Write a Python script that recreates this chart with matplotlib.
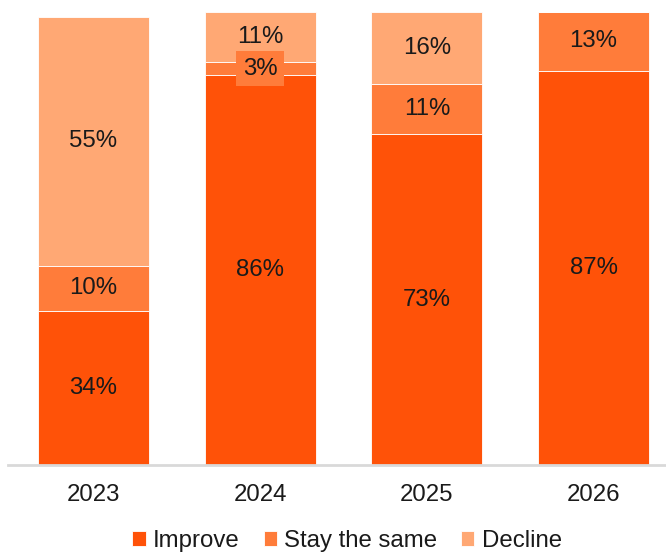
import matplotlib as mpl
import matplotlib.pyplot as plt
import numpy as np

mpl.rcParams['font.family'] = ['Liberation Sans', 'DejaVu Sans']

# survey outlook by year, share of respondents (%)
years = ['2023', '2024', '2025', '2026']
improve = [34, 86, 73, 87]
stay_same = [10, 3, 11, 13]
decline = [55, 11, 16, 0]

series = [
    ('Improve', improve, '#ff5208'),
    ('Stay the same', stay_same, '#ff7c3a'),
    ('Decline', decline, '#ffa874'),
]

fig = plt.figure(figsize=(6.66, 5.55), dpi=100)
ax = fig.add_axes([8 / 666, 1 - 465 / 555, 1 - 8 / 666, 465 / 555])

x = np.arange(len(years))
bottom = np.zeros(len(years))
for name, vals, color in series:
    vals = np.array(vals, dtype=float)
    ax.bar(x, vals, bottom=bottom, width=0.667, color=color,
           edgecolor='white', linewidth=0.6, label=name)
    for xi, b, v in zip(x, bottom, vals):
        if v <= 0:
            continue
        kw = {}
        if v < 5:
            # small segment: label sits on a patch of the segment colour
            kw['bbox'] = dict(boxstyle='square,pad=0.28', fc=color, ec='none')
        ax.text(xi, b + v / 2, f'{int(v)}%', ha='center', va='center',
                fontsize=17.3, color='#1a1a1a', **kw)
    bottom += vals

ax.set_xlim(-0.513, 3.435)
ax.set_ylim(0, 102.65)
ax.set_xticks(x)
ax.set_xticklabels(years, fontsize=17.3, color='#1a1a1a')
ax.tick_params(axis='x', length=0, pad=14)
ax.set_yticks([])
for side in ['top', 'right', 'left']:
    ax.spines[side].set_visible(False)
ax.spines['bottom'].set_color('#d9d9d9')
ax.spines['bottom'].set_linewidth(2)

fig.legend(loc='center', bbox_to_anchor=(347 / 666, 1 - 541 / 555), ncol=3,
           frameon=False, fontsize=17.3, handlelength=0.55, handleheight=0.55,
           handletextpad=0.3, columnspacing=1.0, labelcolor='#1a1a1a')

fig.savefig('out.png', dpi=100)
